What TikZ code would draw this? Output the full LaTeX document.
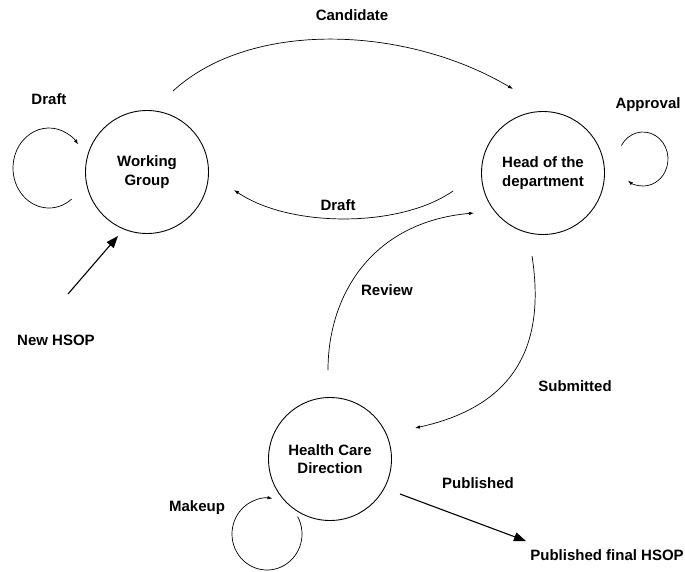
\documentclass[tikz,border=0pt]{standalone}
\usepackage{fontspec}
\setmainfont{Liberation Sans}
\usetikzlibrary{arrows.meta}
\begin{document}
\begin{tikzpicture}[x=1pt,y=-1pt,
  state/.style={circle,draw,line width=0.9pt,minimum size=123pt,inner sep=0pt,align=center,font=\bfseries\fontsize{15}{18.5}\selectfont},
  lbl/.style={font=\bfseries\fontsize{15}{18.5}\selectfont,inner sep=0pt},
  flow/.style={line width=0.7pt,-{Latex[length=5pt,width=3.5pt]}},
  bigflow/.style={line width=1.1pt,-{Triangle[length=12pt,width=9pt]}}]
\useasboundingbox[fill=white] (0,0) rectangle (685,571);
% states
\node[state] (wg) at (147,172) {Working\\Group};
\node[state] (hd) at (543,173) {Head of the\\department};
\node[state] (hc) at (330,459) {Health Care\\Direction};
% connector end points
\coordinate (candS) at (173,91);
\coordinate (candE) at (513,89);
\coordinate (drS) at (453,191);
\coordinate (drE) at (234,190);
\coordinate (revS) at (328,370);
\coordinate (revE) at (474,213);
\coordinate (subS) at (532,256);
\coordinate (subE) at (415,428);
\coordinate (newS) at (68,294);
\coordinate (newE) at (118,236);
\coordinate (pubS) at (400,494);
\coordinate (pubE) at (526,541);
\coordinate (dloop) at (49,168);
\coordinate (aloop) at (643,159);
\coordinate (mloop) at (267,534);
% connectors
\draw[flow] (candS) .. controls (250,20) and (405,25) .. (candE);
\draw[flow] (drS) .. controls (400,228) and (290,228) .. (drE);
\draw[flow] (revS) .. controls (328,295) and (372,222) .. (revE);
\draw[flow] (subS) .. controls (545,340) and (520,405) .. (subE);
\draw[bigflow] (newS) -- (newE);
\draw[bigflow] (pubS) -- (pubE);
% loops
\draw[flow] (dloop) ++(51:36 and 40) arc[start angle=51,end angle=324,x radius=36,y radius=40];
\draw[flow] (aloop) ++(210:25 and 27) arc[start angle=210,end angle=487,x radius=25,y radius=27];
\draw[flow] (mloop) ++(-29:35 and 36) arc[start angle=-29,end angle=279,x radius=35,y radius=36];
% labels
\node[lbl] (l1) at (49,99) {Draft};
\node[lbl] (l2) at (352,15) {Candidate};
\node[lbl] (l3) at (648,105) {Approval};
\node[lbl] (l4) at (338,205) {Draft};
\node[lbl] (l5) at (387,290) {Review};
\node[lbl] (l6) at (56,340) {New HSOP};
\node[lbl] (l7) at (575,386) {Submitted};
\node[lbl] (l8) at (478,483) {Published};
\node[lbl] (l9) at (197,508) {Makeup};
\node[lbl] (l10) at (607,555) {Published final HSOP};
\end{tikzpicture}
\end{document}
